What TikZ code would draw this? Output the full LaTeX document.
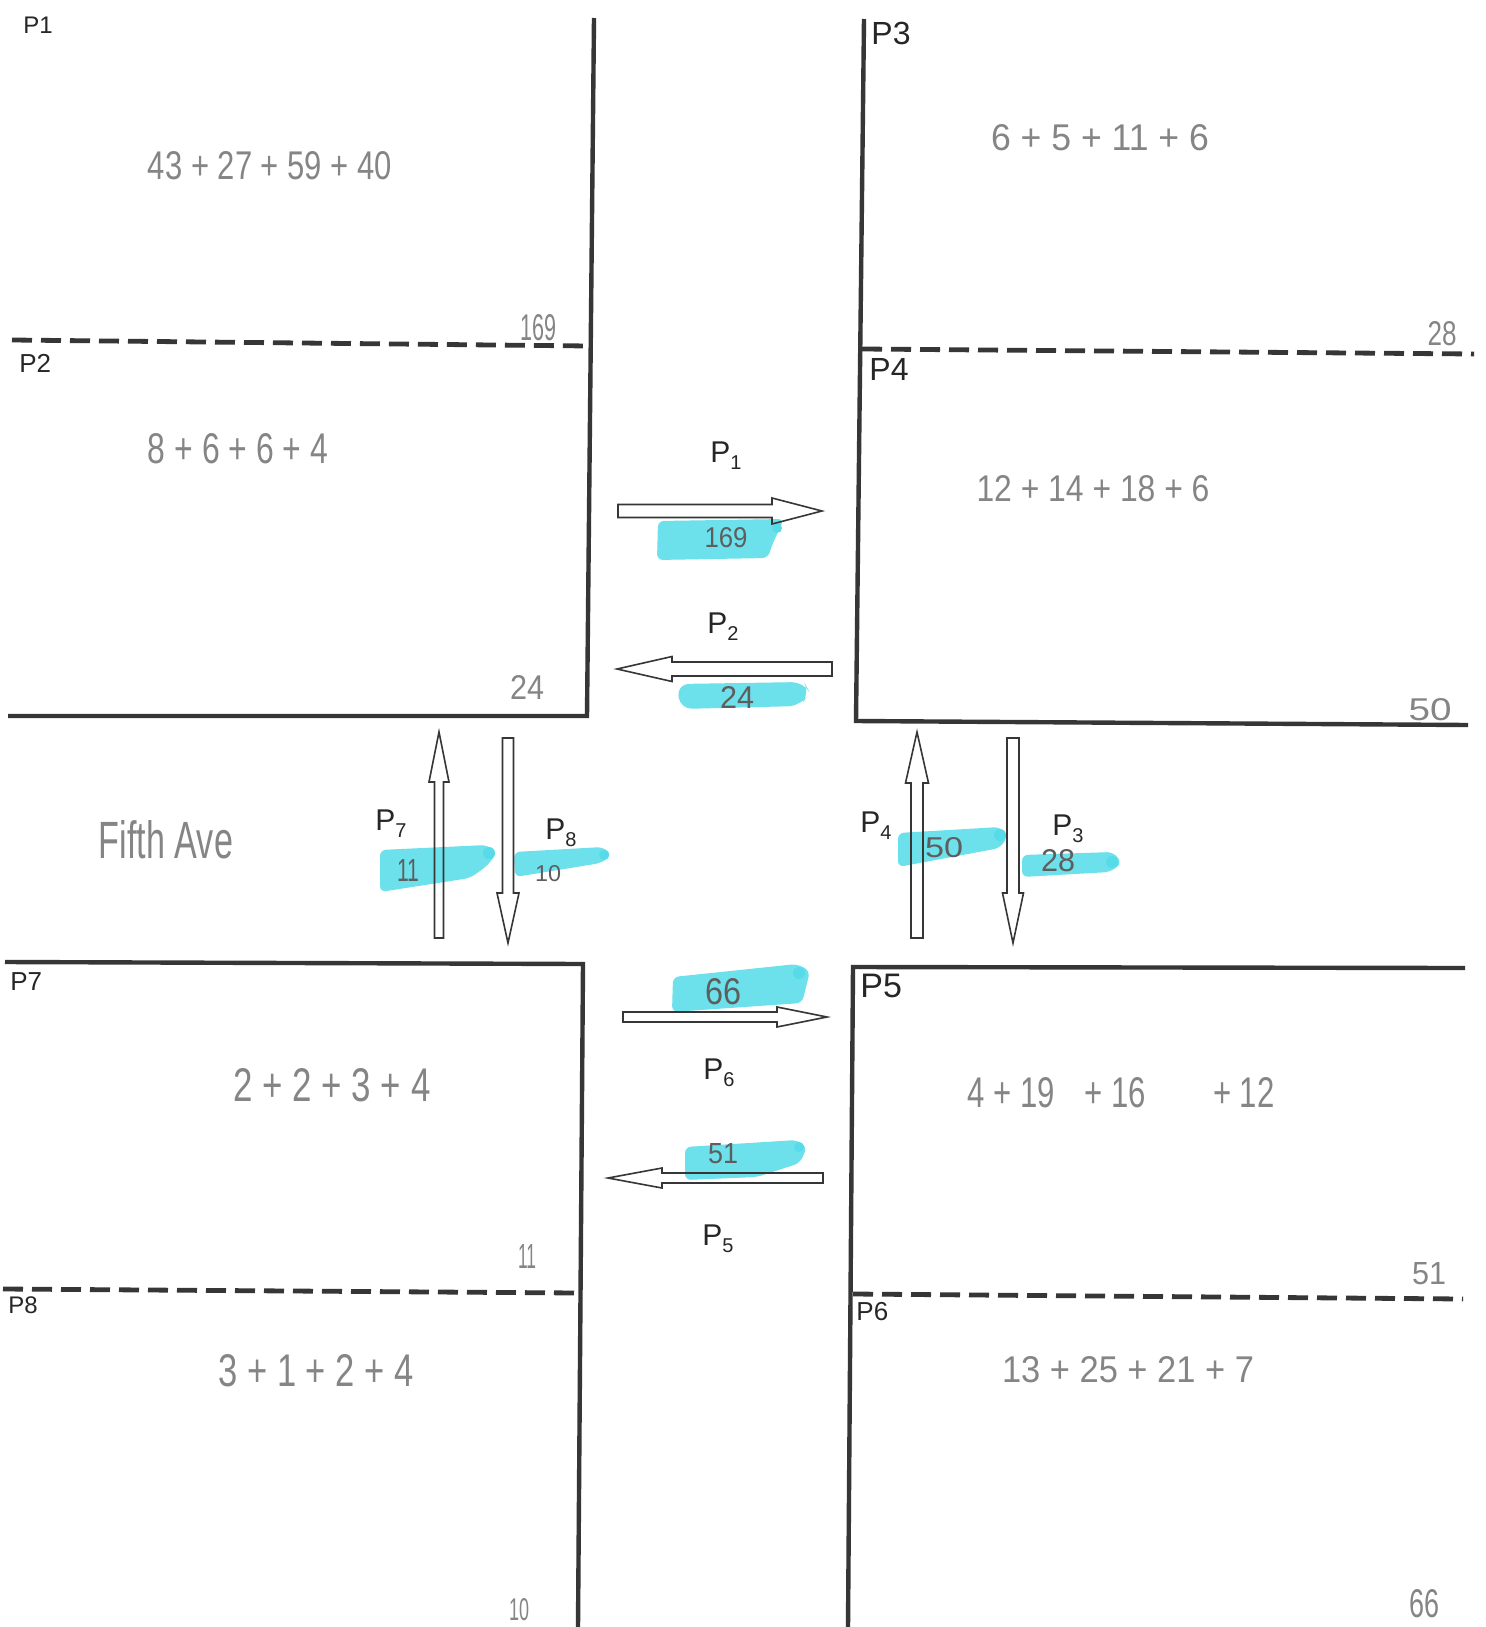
\documentclass[tikz,border=0pt]{standalone}
\usepackage{fontspec}
\setmainfont{Liberation Sans}
\usepackage{graphicx}
\newlength\upx \setlength\upx{0.5pt}
\newcommand\hw[3]{\resizebox{#1\upx}{#2\upx}{#3}}
\newcommand\subn[1]{\raisebox{-3.5pt}{\fontsize{10}{10}\selectfont #1}}
\definecolor{ink}{HTML}{363636}
\definecolor{pencil}{HTML}{858585}
\definecolor{pencildark}{HTML}{5E5E5E}
\definecolor{cyanhl}{RGB}{108,224,235}
\definecolor{cyandk}{RGB}{88,219,232}
\newcommand\flowarrow[8]{%
  \begin{scope}[shift={(#2,#3)},rotate=#5]
    \coordinate (#1-tail) at (0,0);
    \coordinate (#1-tip) at (#4,0);
    \draw[flowbody] (0,-#6) -- ({#4-#8},-#6) -- ({#4-#8},-#7) -- (#1-tip)
      -- ({#4-#8},#7) -- ({#4-#8},#6) -- (0,#6) -- cycle;
  \end{scope}}
\begin{document}
\begin{tikzpicture}[x=0.5pt,y=-0.5pt,
  wallline/.style={draw=ink, line width=2.2pt, line join=miter},
  lotline/.style={draw=ink, line width=2.4pt, dash pattern=on 10pt off 4.5pt},
  flowbody/.style={draw=ink, line width=0.8pt, line join=miter},
  hlband/.style={fill=cyanhl, draw=none, rounded corners=3pt},
  hlspot/.style={fill=cyandk, draw=none},
  handtxt/.style={text=pencil, inner sep=0pt},
  hlnum/.style={text=pencildark, inner sep=0pt},
  plab/.style={text=black!85, inner sep=0pt, anchor=base west},
  clab/.style={text=black!85, inner sep=0pt, anchor=base west, font=\fontsize{15}{15}\selectfont}]
\useasboundingbox[fill=white] (0,0) rectangle (1486,1627);

% ---- block outlines ----
\draw[wallline] (594,18) -- (587,716) -- (8,716);
\draw[lotline] (12,340) -- (589,346);
\draw[wallline] (864,19) -- (856,721) -- (1468,725);
\draw[lotline] (862,349) -- (1474,354);
\draw[wallline] (5,962) -- (583,964) -- (578,1627);
\draw[lotline] (3,1289) -- (579,1293);
\draw[wallline] (1465,968) -- (853,967) -- (848,1627);
\draw[lotline] (853,1294) -- (1463,1299);

% ---- corner labels ----
\node[plab, font=\fontsize{12}{12}\selectfont] (c1) at (23,34) {P1};
\node[plab, font=\fontsize{13}{13}\selectfont] (c2) at (19,372) {P2};
\node[plab, font=\fontsize{16}{16}\selectfont] (c3) at (871,45) {P3};
\node[plab, font=\fontsize{16}{16}\selectfont] (c4) at (869,380) {P4};
\node[plab, font=\fontsize{17}{17}\selectfont] (c5) at (860,997) {P5};
\node[plab, font=\fontsize{13}{13}\selectfont] (c6) at (856,1320) {P6};
\node[plab, font=\fontsize{13}{13}\selectfont] (c7) at (10,990) {P7};
\node[plab, font=\fontsize{12}{12}\selectfont] (c8) at (8,1313) {P8};

% ---- handwritten sums ----
\node[handtxt] (s1) at (270,166) {\hw{244}{28}{43 + 27 + 59 + 40}};
\node[handtxt] (s2) at (238,449) {\hw{180}{30}{8 + 6 + 6 + 4}};
\node[handtxt] (s3) at (1100,138) {\hw{218}{26}{6 + 5 + 11 + 6}};
\node[handtxt] (s4) at (1093,489) {\hw{233}{26}{12 + 14 + 18 + 6}};
\node[handtxt] (s5) at (332,1085) {\hw{197}{33}{2 + 2 + 3 + 4}};
\node[handtxt] (s6) at (1121,1093) {\hw{307}{30}{4 + 19 \hspace{0.4em} + 16 \hspace{1.6em} + 12}};
\node[handtxt] (s7) at (316,1371) {\hw{195}{32}{3 + 1 + 2 + 4}};
\node[handtxt] (s8) at (1128,1370) {\hw{252}{26}{13 + 25 + 21 + 7}};

% ---- corner totals ----
\node[handtxt] (t1) at (538,328) {\hw{36}{26}{169}};
\node[handtxt] (t2) at (527,687) {\hw{34}{24}{24}};
\node[handtxt] (t3) at (1442,334) {\hw{29}{24}{28}};
\node[handtxt] (t4) at (1430,710) {\hw{43}{22}{50}};
\node[handtxt] (t7) at (527,1256) {\hw{18}{24}{11}};
\node[handtxt] (t8) at (519,1610) {\hw{20}{22}{10}};
\node[handtxt] (t5) at (1429,1274) {\hw{34}{22}{51}};
\node[handtxt] (t6) at (1424,1604) {\hw{30}{28}{66}};

\node[handtxt] (ave) at (166,840) {\hw{134}{38}{Fifth Ave}};

% ---- highlighter bands ----
\fill[hlband] (658,521) -- (784,519) -- (772,545) -- (768,558) -- (657,560) -- cycle;
\fill[hlspot] (777,528) circle (5);
\fill[hlband, rounded corners=6pt] (677,684) -- (804,682) -- (810,693) -- (800,706) -- (680,709) -- cycle;
\fill[hlband] (380,850) -- (487,845) -- (497,853) -- (487,866) -- (470,878) -- (380,892) -- cycle;
\fill[hlspot] (489,853) circle (6);
\fill[hlband] (514,852) -- (603,847) -- (612,855) -- (601,863) -- (515,877) -- cycle;
\fill[hlspot] (604,855) circle (5);
\fill[hlband] (898,833) -- (1000,827) -- (1008,836) -- (1000,848) -- (898,867) -- cycle;
\fill[hlspot] (1000,835) circle (6);
\fill[hlband] (1022,855) -- (1113,852) -- (1122,863) -- (1110,872) -- (1022,877) -- cycle;
\fill[hlspot] (1112,862) circle (6);
\fill[hlband] (673,977) -- (797,964) -- (810,971) -- (802,1003) -- (672,1012) -- cycle;
\fill[hlspot] (799,973) circle (6);
\fill[hlband] (685,1147) -- (797,1140) -- (807,1147) -- (800,1163) -- (757,1177) -- (685,1180) -- cycle;
\fill[hlspot] (799,1147) circle (5);

% ---- flow arrows ----
\flowarrow{a1}{618}{511}{204}{0}{6.5}{13}{50}
\flowarrow{a2}{832}{669}{215}{180}{7}{12.5}{55}
\flowarrow{a7}{439}{938}{206}{90}{4.5}{10}{50}
\flowarrow{a8}{508}{738}{205}{-90}{5.5}{11}{50}
\flowarrow{a4}{917}{938}{206}{90}{6}{11.5}{51}
\flowarrow{a3}{1013}{738}{205}{-90}{6}{10.5}{50}
\flowarrow{a6}{623}{1017}{204}{0}{5}{10}{50}
\flowarrow{a5}{823}{1178}{215}{180}{5}{10}{54}

% ---- flow labels ----
\node[clab] (f1) at (710,462) {P\subn{1}};
\node[clab] (f2) at (707,633) {P\subn{2}};
\node[clab] (f7) at (375,830) {P\subn{7}};
\node[clab] (f8) at (545,839) {P\subn{8}};
\node[clab] (f4) at (860,832) {P\subn{4}};
\node[clab] (f3) at (1052,835) {P\subn{3}};
\node[clab] (f6) at (703,1079) {P\subn{6}};
\node[clab] (f5) at (702,1245) {P\subn{5}};

% ---- highlighted numbers ----
\node[hlnum] (n1) at (726,538) {\hw{43}{20}{169}};
\node[hlnum] (n2) at (737,697) {\hw{34}{22}{24}};
\node[hlnum] (n7) at (408,870) {\hw{22}{22}{11}};
\node[hlnum] (n8) at (548,874) {\hw{26}{16}{10}};
\node[hlnum] (n4) at (944,848) {\hw{38}{20}{50}};
\node[hlnum] (n3) at (1058,861) {\hw{34}{22}{28}};
\node[hlnum] (n6) at (723,992) {\hw{36}{26}{66}};
\node[hlnum] (n5) at (723,1154) {\hw{30}{20}{51}};
\end{tikzpicture}
\end{document}
